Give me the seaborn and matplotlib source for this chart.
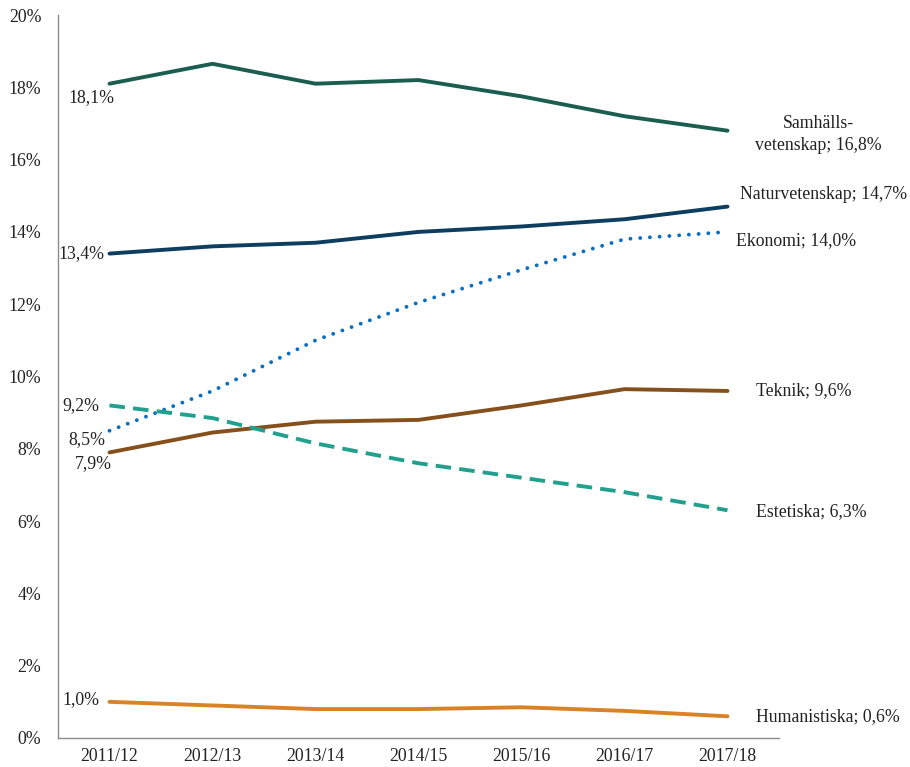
import matplotlib
matplotlib.use("Agg")
import matplotlib.pyplot as plt
import seaborn as sns
import pandas as pd
from matplotlib.ticker import FuncFormatter

years = ["2011/12", "2012/13", "2013/14", "2014/15", "2015/16", "2016/17", "2017/18"]
samhall = [18.1, 18.65, 18.1, 18.2, 17.75, 17.2, 16.8]
natur = [13.4, 13.6, 13.7, 14.0, 14.15, 14.35, 14.7]
ekonomi = [8.5, 9.6, 11.0, 12.05, 12.95, 13.8, 14.0]
teknik = [7.9, 8.45, 8.75, 8.8, 9.2, 9.65, 9.6]
estetiska = [9.2, 8.85, 8.15, 7.6, 7.2, 6.8, 6.3]
humanist = [1.0, 0.9, 0.8, 0.8, 0.85, 0.75, 0.6]

start_labels = ["18,1%", "13,4%", "8,5%", "7,9%", "9,2%", "1,0%"]
end_labels = ["Samhälls-\nvetenskap; 16,8%", "Naturvetenskap; 14,7%", "Ekonomi; 14,0%",
              "Teknik; 9,6%", "Estetiska; 6,3%", "Humanistiska; 0,6%"]

series = [
    ("Samhällsvetenskap", samhall, "#1b5e50", "-"),
    ("Naturvetenskap", natur, "#0d3d5f", "-"),
    ("Ekonomi", ekonomi, "#0a6fc0", (0, (0.01, 2.5))),
    ("Teknik", teknik, "#85501c", "-"),
    ("Estetiska", estetiska, "#22a08e", (0, (4.0, 2.1))),
    ("Humanistiska", humanist, "#d98228", "-"),
]

sns.set_style("white")
plt.rcParams["font.family"] = ["Liberation Serif", "DejaVu Serif"]

fig = plt.figure(figsize=(9.1, 7.67), dpi=100)
ax = fig.add_axes([58/910, 29/767, (779-58)/910, (738-15)/767])

start_off = [(-18, -14, "center"), (-5, 0, "right"), (-4, -9, "right"),
             (2, -11, "right"), (-10, 0, "right"), (-10, 2, "right")]
end_off = [(91, -4, "center"), (13, 12, "left"), (9, -9, "left"),
           (28, 0, "left"), (28, -1, "left"), (28, 0, "left")]

FS = 12.8
for i, (name, vals, col, ls) in enumerate(series):
    df = pd.DataFrame({"x": list(range(len(years))), "y": vals})
    sns.lineplot(data=df, x="x", y="y", ax=ax, color=col, linewidth=2.8,
                 linestyle=ls, sort=False)
    line = ax.lines[-1]
    if ls == "-":
        line.set_solid_capstyle("round")
        line.set_solid_joinstyle("round")
    elif name == "Ekonomi":
        line.set_dash_capstyle("round")
    dx, dy, ha = start_off[i]
    ax.annotate(start_labels[i], (0, vals[0]), xytext=(dx, dy),
                textcoords="offset pixels", ha=ha, va="center", fontsize=FS, color="#222222")
    dx, dy, ha = end_off[i]
    ax.annotate(end_labels[i], (len(years) - 1, vals[-1]), xytext=(dx, dy),
                textcoords="offset pixels", ha=ha, va="center", fontsize=FS, color="#222222",
                multialignment="center", linespacing=1.4, annotation_clip=False)

ax.set_xlim(-0.5, 6.5)
ax.set_ylim(0, 20)
ax.set_yticks(range(0, 21, 2))
ax.yaxis.set_major_formatter(FuncFormatter(lambda v, p: f"{int(v)}%"))
ax.set_xticks(range(len(years)))
ax.set_xticklabels(years)
ax.set_xticks([i - 0.5 for i in range(len(years) + 1)], minor=True)
ax.tick_params(axis="x", which="major", length=0, pad=7, labelsize=FS, labelcolor="#222222")
ax.tick_params(axis="x", which="minor", length=6, width=1, color="#8c8c8c", direction="out")
ax.tick_params(axis="y", length=6, width=1, color="#8c8c8c", direction="out", labelsize=FS,
               labelcolor="#222222", pad=6)
ax.set_xlabel("")
ax.set_ylabel("")
for s in ["top", "right"]:
    ax.spines[s].set_visible(False)
for s in ["left", "bottom"]:
    ax.spines[s].set_color("#8c8c8c")
    ax.spines[s].set_linewidth(1)
ax.grid(False)

fig.savefig("out.png", dpi=100)
